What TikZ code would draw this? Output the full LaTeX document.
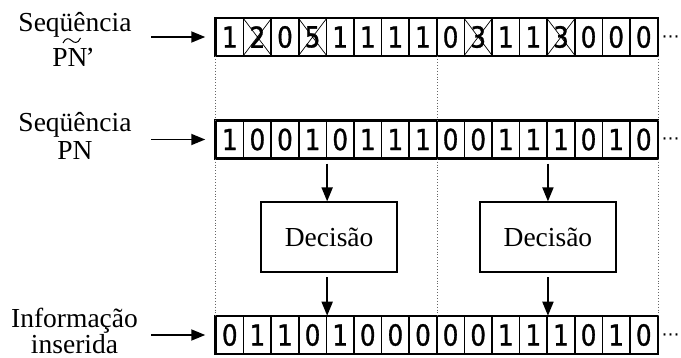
\documentclass[tikz,border=0pt]{standalone}
\usepackage{fontspec}
\setmainfont{Liberation Serif}
\newfontfamily\digitfont[FakeStretch=0.85,FakeBold=1]{DejaVu Sans}
\newfontfamily\symfont{DejaVu Sans}
\usetikzlibrary{arrows.meta,calc}

\begin{document}
\begin{tikzpicture}[x=1pt,y=-1pt,
  lbl/.style={anchor=base,font=\fontsize{27.5}{33}\selectfont,inner sep=0},
  cell/.style={draw,line width=1.5pt,minimum width=27.6pt,minimum height=37pt,
    inner sep=0,font=\digitfont\fontsize{29}{29}\selectfont},
  frame/.style={line width=2pt},
  cross/.style={line width=0.7pt},
  guide/.style={dotted,line width=0.9pt,black!60},
  arr/.style={line width=1.8pt,-{Triangle[length=14pt,width=11pt]}},
  decbox/.style={draw,line width=1.7pt,minimum width=136pt,minimum height=70pt,
    font=\fontsize{27.5}{33}\selectfont},
  more/.style={font=\symfont\fontsize{18}{18}\selectfont,inner sep=0}]
\useasboundingbox (0,0) rectangle (681,358);

% received sequence, estimated PN and recovered information
\foreach \d [count=\i] in {1,2,0,5,1,1,1,1,0,3,1,1,3,0,0,0}
  \node[cell] (a\i) at ({216+27.6*(\i-0.5)},37) {\d};
\foreach \d [count=\i] in {1,0,0,1,0,1,1,1,0,0,1,1,1,0,1,0}
  \node[cell] (b\i) at ({216+27.6*(\i-0.5)},139.5) {\d};
\foreach \d [count=\i] in {0,1,1,0,1,0,0,0,0,0,1,1,1,0,1,0}
  \node[cell] (c\i) at ({216+27.6*(\i-0.5)},335) {\d};

\foreach \r in {a,b,c}
  \draw[frame] (\r1.north west) rectangle (\r16.south east);

% symbols that are not binary are struck out
\foreach \k in {2,4,10,13}
  \draw[cross] (a\k.north west) -- (a\k.south east)
               (a\k.north east) -- (a\k.south west);

% continuation marks
\node[more] (m1) at (670.5,39) {⋯};
\node[more] (m2) at (670.5,141.5) {⋯};
\node[more] (m3) at (670.5,337) {⋯};

% dotted guides marking the two 8-chip blocks
\draw[guide] (a1.south west) -- (b1.north west)
             (a8.south east) -- (b8.north east)
             (a16.south east) -- (b16.north east)
             (b1.south west) -- (c1.north west)
             (b8.south east) -- (c8.north east)
             (b16.south east) -- (c16.north east);

% decision blocks
\node[decbox] (d1) at ($(b4.south east)!0.5!(c4.north east)+(2,0)$) {Decisão};
\node[decbox] (d2) at ($(b12.south east)!0.5!(c12.north east)$) {Decisão};
\draw[arr,shorten <=5pt] (b4.south east) -- (b4.south east |- d1.north);
\draw[arr,shorten <=4pt] (b4.south east |- d1.south) -- (c4.north east);
\draw[arr,shorten <=5pt] (b12.south east) -- (d2.north);
\draw[arr,shorten <=4pt] (d2.south) -- (c12.north east);

% row labels
\node[lbl] (s1) at (75,32) {Seqüência};
\node[lbl] (p1) at (73.5,67) {PN\kern-2pt’};
\draw[line width=1pt] (63,43) .. controls (65.5,37.5) and (69,38) .. (71.5,40.5)
                      .. controls (74,43) and (78,44) .. (80.5,38);
\node[lbl] (s2) at (75,132) {Seqüência};
\node[lbl] (p2) at (75,160) {PN};
\node[lbl] (i1) at (74.5,328) {Informação};
\node[lbl] (i2) at (74.5,353.5) {inserida};

% input arrows
\coordinate (e1) at (151,37);
\coordinate (e2) at (151,139.5);
\coordinate (e3) at (151,335);
\draw[arr,shorten >=10pt] (e1) -- (a1.west);
\draw[arr,shorten >=10pt] (e2) -- (b1.west);
\draw[arr,shorten >=10pt] (e3) -- (c1.west);
\end{tikzpicture}
\end{document}
